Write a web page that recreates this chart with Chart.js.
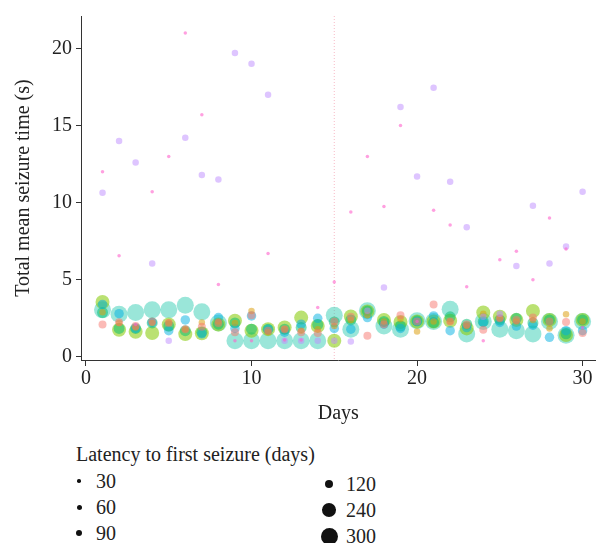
<!DOCTYPE html>
<html>
<head>
<meta charset="utf-8">
<script src="https://cdn.jsdelivr.net/npm/chart.js@4.4.1/dist/chart.umd.min.js"></script>
<style>
  body { margin: 0; background: #fff; font-family: "Liberation Serif", "DejaVu Serif", serif; color: #222; }
  #wrap { position: relative; width: 604px; height: 543px; }
  #chart { position: absolute; left: 0; top: 0; }
  #legend { position: absolute; left: 76px; top: 443px; font-size: 20px; }
  #legend .title { position: absolute; left: 0; top: 0; white-space: nowrap; line-height: 23px; }
  .item { position: absolute; white-space: nowrap; height: 20px; line-height: 20px; }
  .item .dot { position: absolute; background: #111; border-radius: 50%; }
  .item span { position: absolute; left: 20px; top: 0; }
</style>
</head>
<body>
<div id="wrap">
  <canvas id="chart" width="604" height="430"></canvas>
  <div id="legend"><div class="title">Latency to first seizure (days)</div></div>
</div>
<script>
// Days on the x axis
var days = [1, 2, 3, 4, 5, 6, 7, 8, 9, 10, 11, 12, 13, 14, 15,
            16, 17, 18, 19, 20, 21, 22, 23, 24, 25, 26, 27, 28, 29, 30];
var xTicks = [0, 10, 20, 30];
var yTicks = [0, 5, 10, 15, 20];
var refDay = 15;
var legendBreaks = [30, 60, 90, 120, 240, 300];

// One series per animal: mean seizure time (s) per day, latency in days
var magentaVals = [12.0, 6.55, 2.1, 10.7, 13.0, 21.0, 15.7, 4.7, 1.05, 1.05, 6.7, 1.1, 1.1, 3.2, 4.85,
                   9.4, 13.0, 9.75, 15.0, 2.3, 9.5, 8.55, 4.55, 1.05, 6.3, 6.85, 5.0, 9.0, 7.0, 1.9];
var purpleVals = [10.65, 14.0, 12.6, 6.05, 1.05, 14.2, 11.8, 11.5, 19.7, 19.0, 17.0, 1.05, 1.05, 1.05, 1.05,
                  1.0, 3.0, 4.5, 16.2, 11.7, 17.45, 11.35, 8.4, 2.6, 2.8, 5.9, 9.8, 6.05, 7.15, 10.7];
var pinkVals = [2.1, 2.25, 2.0, 2.3, 2.2, 1.8, 1.95, 2.2, 1.6, 2.7, 1.7, 1.8, 1.6, 1.55, 2.3,
                2.6, 1.37, 2.1, 2.7, 2.3, 3.4, 2.3, 2.1, 1.76, 2.5, 2.4, 2.55, 2.3, 2.27, 1.55];
var orangeVals = [2.9, 2.2, 1.9, 2.2, 2.23, 1.8, 2.23, 2.3, 2.2, 2.98, 1.6, 1.8, 1.7, 1.8, 2.0,
                  2.4, 2.7, 2.3, 2.45, 1.65, 2.3, 2.3, 2.0, 2.8, 2.5, 2.3, 2.4, 1.85, 2.77, 2.3];
var cyanVals = [3.4, 2.8, 1.85, 2.23, 1.7, 2.4, 1.5, 2.55, 1.85, 2.66, 1.8, 1.6, 2.12, 2.5, 1.85,
                1.8, 2.55, 2.12, 1.85, 2.3, 2.66, 1.7, 1.9, 2.23, 2.23, 2.0, 2.06, 1.27, 1.7, 1.7];
var greenVals = [2.88, 1.85, 1.85, 2.2, 2.0, 1.7, 1.6, 2.12, 2.2, 1.8, 1.8, 1.8, 1.9, 2.1, 2.27,
                 2.4, 2.98, 2.3, 2.0, 2.34, 2.23, 2.6, 2.12, 2.3, 2.4, 2.5, 2.2, 2.4, 1.5, 2.4];
var limeVals = [3.56, 1.76, 1.63, 1.55, 2.1, 1.48, 1.53, 2.1, 2.34, 1.7, 1.8, 1.91, 2.55, 2.0, 1.05,
                2.62, 2.95, 2.4, 2.27, 2.3, 2.3, 2.34, 1.85, 2.88, 2.6, 2.4, 2.98, 2.4, 1.42, 2.4];
var tealVals = [3.05, 2.77, 2.88, 3.05, 3.05, 3.35, 2.92, 2.2, 1.05, 1.05, 1.05, 1.05, 1.05, 1.05, 2.7,
                1.8, 3.0, 2.0, 1.8, 2.34, 2.3, 3.09, 1.48, 2.3, 1.8, 1.7, 1.48, 2.3, 1.4, 2.3];

var seriesVals = [magentaVals, purpleVals, pinkVals, orangeVals, cyanVals, greenVals, limeVals, tealVals];
var seriesLatency = [30, 90, 120, 90, 150, 180, 240, 300];
var seriesColors = ['rgba(255,97,204,0.6)', 'rgba(190,140,255,0.5)', 'rgba(248,118,109,0.5)',
                    'rgba(220,160,20,0.55)', 'rgba(0,175,225,0.5)', 'rgba(0,190,110,0.5)',
                    'rgba(140,205,20,0.6)', 'rgba(30,200,170,0.45)'];

// bubble radius (px) from latency
function radiusFor(lat) {
    return 1.0 + 0.025 * lat;
}

var datasets = seriesVals.map(function(vals, i) {
    return {
        data: days.map(function(d, j) {
            return { x: d, y: vals[j], r: radiusFor(seriesLatency[i]) };
        }),
        backgroundColor: seriesColors[i],
        borderWidth: 0,
        hoverBorderWidth: 0
    };
});

// dotted vertical line at the reference day
var refLine = {
    id: 'refLine',
    beforeDatasetsDraw: function(chart) {
        var ctx = chart.ctx, area = chart.chartArea;
        var x = chart.scales.x.getPixelForValue(refDay);
        ctx.save();
        ctx.strokeStyle = 'rgba(240,130,150,0.55)';
        ctx.lineWidth = 1;
        ctx.setLineDash([1, 2]);
        ctx.beginPath();
        ctx.moveTo(x, area.top);
        ctx.lineTo(x, area.bottom);
        ctx.stroke();
        ctx.restore();
    }
};

var fontFam = '"Liberation Serif", "DejaVu Serif", serif';

new Chart(document.getElementById('chart').getContext('2d'), {
    type: 'bubble',
    data: { datasets: datasets },
    options: {
        responsive: false,
        animation: false,
        devicePixelRatio: 1,
        layout: { padding: { top: 14, right: 4, left: 0, bottom: 0 } },
        plugins: { legend: { display: false }, tooltip: { enabled: false } },
        scales: {
            x: {
                type: 'linear',
                min: -0.3,
                max: 30.78,
                afterBuildTicks: function(axis) {
                    axis.ticks = xTicks.map(function(v) { return { value: v }; });
                },
                afterFit: function(s) { s.height = 70; },
                ticks: { font: { family: fontFam, size: 20 }, color: '#222', padding: 1, maxRotation: 0 },
                grid: { drawOnChartArea: false, drawTicks: true, tickLength: 6, color: '#333' },
                border: { color: '#333', width: 1 },
                title: { display: true, text: 'Days', font: { family: fontFam, size: 20 }, color: '#222', padding: { top: 6 } }
            },
            y: {
                type: 'linear',
                min: -0.2,
                max: 22.1,
                afterBuildTicks: function(axis) {
                    axis.ticks = yTicks.map(function(v) { return { value: v }; });
                },
                afterFit: function(s) { s.width = 81; },
                ticks: { font: { family: fontFam, size: 20 }, color: '#222', padding: 4 },
                grid: { drawOnChartArea: false, drawTicks: true, tickLength: 5, color: '#333' },
                border: { color: '#333', width: 1 },
                title: { display: true, text: 'Total mean seizure time (s)', font: { family: fontFam, size: 20 }, color: '#222', padding: { top: 12, bottom: 0 } }
            }
        }
    },
    plugins: [refLine]
});

// size legend: two columns of three
var legend = document.getElementById('legend');
legendBreaks.forEach(function(b, i) {
    var col = Math.floor(i / 3), row = i % 3;
    var item = document.createElement('div');
    item.className = 'item';
    item.style.left = (col * 250) + 'px';
    item.style.top = (28 + row * 26 + col * 3) + 'px';
    var r = radiusFor(b);
    var dot = document.createElement('div');
    dot.className = 'dot';
    dot.style.width = dot.style.height = (2 * r) + 'px';
    dot.style.left = (3 - r) + 'px';
    dot.style.top = (10 - r) + 'px';
    var lab = document.createElement('span');
    lab.textContent = b;
    item.appendChild(dot);
    item.appendChild(lab);
    legend.appendChild(item);
});
</script>
</body>
</html>
